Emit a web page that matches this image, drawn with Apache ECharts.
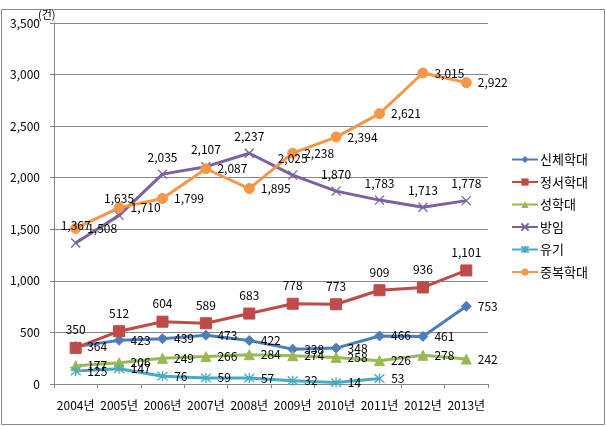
<!DOCTYPE html>
<html><head><meta charset="utf-8">
<script src="https://cdn.jsdelivr.net/npm/echarts@6/dist/echarts.min.js"></script>
<style>html,body{margin:0;padding:0;background:#fff}#c{width:606px;height:426px}</style>
</head><body><div id="c"></div>
<script>
const categories = ['2004년','2005년','2006년','2007년','2008년','2009년','2010년','2011년','2012년','2013년'];
const physical = [364,423,439,473,422,338,348,466,461,753];
const emotional = [350,512,604,589,683,778,773,909,936,1101];
const sexual = [177,206,249,266,284,274,258,226,278,242];
const neglect = [1367,1635,2035,2107,2237,2025,1870,1783,1713,1778];
const abandon = [125,147,76,59,57,32,14,53,null,null];
const multiple = [1508,1710,1799,2087,1895,2238,2394,2621,3015,2922];
const yTicks = [0,500,1000,1500,2000,2500,3000,3500];

const FONT = "'Noto Sans CJK KR', sans-serif";
const fmt = v => String(v).replace(/\B(?=(\d{3})+(?!\d))/g, ',');
const X_PATH = 'path://M0,0L10,10M10,0L0,10';
const AST_PATH = 'path://M0,0L10,10M10,0L0,10M5,-1L5,11';

function mk(name, data, color, symbol, size, pos, stroke) {
  return {
    name, type: 'line', data, symbol, symbolSize: size,
    lineStyle: {color, width: 3},
    itemStyle: stroke ? {color: 'rgba(0,0,0,0)', borderColor: color, borderWidth: 1.3} : {color, borderColor: color},
    label: {show: true, position: pos, distance: 6, color: '#000', fontFamily: FONT, fontSize: 12,
      formatter: p => fmt(p.value)},
    connectNulls: false,
    z: 2
  };
}

const chart = echarts.init(document.getElementById('c'));
chart.setOption({
  animation: false,
  textStyle: {fontFamily: FONT},
  graphic: [
    {type: 'rect', shape: {x: 1.5, y: 9.5, width: 603, height: 415}, style: {fill: 'none', stroke: '#888', lineWidth: 1}, z: -1},
    {type: 'text', left: 38, top: 9, style: {text: '(건)', font: "11px " + FONT, fill: '#000'}}
  ],
  grid: {left: 54, right: 118, top: 23, bottom: 42},
  legend: {
    orient: 'vertical', left: 506, top: 148, itemGap: 9.5, itemWidth: 26, itemHeight: 9,
    textStyle: {fontFamily: FONT, fontSize: 13, color: '#000', padding: [0,0,0,-3]},
    data: ['신체학대','정서학대','성학대','방임','유기','중복학대']
  },
  xAxis: {
    type: 'category', data: categories, boundaryGap: true,
    axisLine: {lineStyle: {color: '#868686'}},
    axisTick: {show: true, length: 4, lineStyle: {color: '#868686'}},
    axisLabel: {color: '#000', fontFamily: FONT, fontSize: 12, margin: 15, interval: 0}
  },
  yAxis: {
    type: 'value', min: yTicks[0], max: yTicks[yTicks.length-1], interval: 500,
    axisLine: {show: true, lineStyle: {color: '#868686'}},
    axisTick: {show: true, length: 4, lineStyle: {color: '#868686'}},
    splitLine: {lineStyle: {color: '#868686'}},
    axisLabel: {color: '#000', fontFamily: FONT, fontSize: 12, margin: 14, formatter: v => fmt(v)}
  },
  series: [
    mk('신체학대', physical, '#4A7EBB', 'diamond', 10, 'right'),
    mk('정서학대', emotional, '#BE4B48', 'rect', 11, 'top'),
    mk('성학대', sexual, '#98B954', 'triangle', 10, 'right'),
    mk('방임', neglect, '#7D60A0', X_PATH, 9, 'top', true),
    mk('유기', abandon, '#46AAC5', AST_PATH, 10, 'right', true),
    mk('중복학대', multiple, '#F79646', 'circle', 10, 'right')
  ]
});
</script></body></html>
